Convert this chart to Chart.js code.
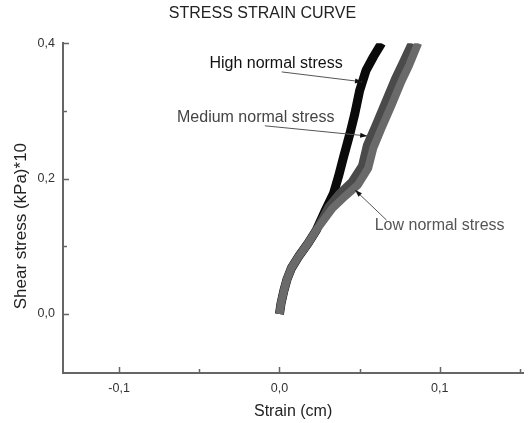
<!DOCTYPE html>
<html>
<head>
<meta charset="utf-8">
<script src="https://cdn.jsdelivr.net/npm/chart.js@4.4.1/dist/chart.umd.min.js"></script>
<style>
  html, body { margin: 0; padding: 0; background: #fff; }
  #wrap { width: 528px; height: 423px; }
</style>
</head>
<body>
<div id="wrap"><canvas id="chart" width="528" height="423"></canvas></div>
<script>
/* ── 資料 ───────────────────────────────────── */
const HIGH_X   = [0.000, 0.0010, 0.0027, 0.0048, 0.0075, 0.012, 0.018, 0.023, 0.0286, 0.0337, 0.0368, 0.040, 0.044, 0.047, 0.050, 0.054, 0.0586, 0.0637];
const HIGH_Y   = [0.000, 0.016,  0.034,  0.052,  0.068,  0.085, 0.105, 0.124, 0.153,  0.178,  0.203,  0.232, 0.267, 0.296, 0.330, 0.360, 0.380,  0.400];

const MEDIUM_X = [0.000, 0.0010, 0.0027, 0.0048, 0.0075, 0.012, 0.018, 0.023, 0.0305, 0.037, 0.045, 0.0515, 0.0545, 0.0598, 0.066, 0.072, 0.077, 0.0825];
const MEDIUM_Y = [0.000, 0.016,  0.034,  0.052,  0.068,  0.085, 0.105, 0.124, 0.158,  0.177, 0.195, 0.219,  0.249,  0.278,  0.313, 0.347, 0.372, 0.400];

const LOW_X    = [0.000, 0.0010, 0.0027, 0.0048, 0.0075, 0.012, 0.018, 0.023, 0.033, 0.041, 0.049, 0.0553, 0.0585, 0.0636, 0.070, 0.076, 0.081, 0.0865];
const LOW_Y    = [0.000, 0.016,  0.034,  0.052,  0.068,  0.085, 0.105, 0.124, 0.156, 0.174, 0.191, 0.215,  0.245,  0.274,  0.309, 0.343, 0.368, 0.400];

const X_TICKS   = [-0.1, -0.05, 0, 0.05, 0.1, 0.15];
const X_LABELED = [-0.1, 0, 0.1];
const Y_TICKS   = [0, 0.1, 0.2, 0.3, 0.4];
const Y_LABELED = [0, 0.2, 0.4];

/* 註解文字與箭頭（資料座標） */
const NOTES = [
  { text: 'High normal stress',   color: '#111', at: [-0.0437, 0.370], from: [0.0014, 0.3576],  to: [0.0515, 0.343] },
  { text: 'Medium normal stress', color: '#444', at: [-0.0639, 0.290], from: [-0.0091, 0.278],  to: [0.0547, 0.263] },
  { text: 'Low normal stress',    color: '#555', at: [0.0594, 0.131],  from: [0.0668, 0.1387],  to: [0.0472, 0.183] }
];

const FONT = '"Liberation Sans", Arial, sans-serif';
const fmt = v => v.toFixed(1).replace('.', ',');
const pts = (xs, ys) => xs.map((x, i) => ({ x, y: ys[i] }));

/* ── 插件：向內刻度、Y 軸標題、註解 ───────────── */
const innerTicks = {
  id: 'innerTicks',
  afterDraw(chart) {
    const { ctx, chartArea: a, scales: { x, y } } = chart;
    ctx.save();
    ctx.strokeStyle = '#666';
    ctx.lineWidth = 1.5;
    ctx.beginPath();
    X_TICKS.forEach(v => {
      const px = Math.round(x.getPixelForValue(v)) + 0.5;
      const len = X_LABELED.includes(v) ? 6 : 4;
      ctx.moveTo(px, a.bottom);
      ctx.lineTo(px, a.bottom - len);
    });
    Y_TICKS.forEach(v => {
      const py = Math.round(y.getPixelForValue(v)) + 0.5;
      const len = Y_LABELED.includes(v) ? 6 : 4;
      ctx.moveTo(a.left, py);
      ctx.lineTo(a.left + len, py);
    });
    ctx.stroke();

    /* Y 軸標題 */
    ctx.translate(21, (a.top + a.bottom) / 2 + 18);
    ctx.rotate(-Math.PI / 2);
    ctx.fillStyle = '#222';
    ctx.font = '17px ' + FONT;
    ctx.textAlign = 'center';
    ctx.textBaseline = 'middle';
    ctx.fillText('Shear stress (kPa)*10', 0, 0);
    ctx.restore();
  }
};

const notes = {
  id: 'notes',
  afterDatasetsDraw(chart) {
    const { ctx, scales: { x, y } } = chart;
    ctx.save();
    ctx.font = '16px ' + FONT;
    ctx.textBaseline = 'middle';
    NOTES.forEach(n => {
      ctx.fillStyle = n.color;
      ctx.fillText(n.text, x.getPixelForValue(n.at[0]), y.getPixelForValue(n.at[1]));

      const x0 = x.getPixelForValue(n.from[0]), y0 = y.getPixelForValue(n.from[1]);
      const x1 = x.getPixelForValue(n.to[0]),   y1 = y.getPixelForValue(n.to[1]);
      ctx.strokeStyle = '#555';
      ctx.lineWidth = 1;
      ctx.beginPath();
      ctx.moveTo(x0, y0);
      ctx.lineTo(x1, y1);
      ctx.stroke();

      // 箭頭
      const ang = Math.atan2(y1 - y0, x1 - x0);
      ctx.fillStyle = '#111';
      ctx.beginPath();
      ctx.moveTo(x1, y1);
      ctx.lineTo(x1 - 7 * Math.cos(ang) + 2.5 * Math.sin(ang), y1 - 7 * Math.sin(ang) - 2.5 * Math.cos(ang));
      ctx.lineTo(x1 - 7 * Math.cos(ang) - 2.5 * Math.sin(ang), y1 - 7 * Math.sin(ang) + 2.5 * Math.cos(ang));
      ctx.closePath();
      ctx.fill();
    });
    ctx.restore();
  }
};

/* ── 圖表 ───────────────────────────────────── */
const lineStyle = (color, width) => ({
  borderColor: color,
  backgroundColor: color,
  borderWidth: width,
  pointRadius: 0,
  tension: 0,
  fill: false,
  clip: 0,
  borderCapStyle: 'butt',
  borderJoinStyle: 'round'
});

new Chart(document.getElementById('chart'), {
  type: 'line',
  data: {
    datasets: [
      { label: 'Low normal stress',    data: pts(LOW_X, LOW_Y),       ...lineStyle('#6a6a6a', 8) },
      { label: 'Medium normal stress', data: pts(MEDIUM_X, MEDIUM_Y), ...lineStyle('#4a4a4a', 8) },
      { label: 'High normal stress',   data: pts(HIGH_X, HIGH_Y),     ...lineStyle('#0a0a0a', 9) }
    ]
  },
  options: {
    responsive: false,
    animation: false,
    layout: { padding: { left: 0, right: 3, top: 0, bottom: 0 } },
    plugins: {
      legend: { display: false },
      tooltip: { enabled: false },
      title: {
        display: true,
        text: 'STRESS STRAIN CURVE',
        color: '#222',
        font: { family: FONT, size: 16, weight: 'normal' },
        padding: { top: 4, bottom: 20 }
      }
    },
    scales: {
      x: {
        type: 'linear',
        position: 'bottom',
        min: -0.135,
        max: 0.152,
        afterBuildTicks: s => { s.ticks = X_TICKS.map(v => ({ value: v })); },
        afterFit: s => { s.height = 50; },
        ticks: {
          autoSkip: false,
          maxRotation: 0,
          padding: 8,
          color: '#333',
          font: { family: FONT, size: 12.5 },
          callback: v => X_LABELED.includes(v) ? fmt(v) : ''
        },
        grid: { display: false, drawTicks: false },
        border: { display: true, color: '#666', width: 2 },
        title: {
          display: true,
          text: 'Strain (cm)',
          color: '#222',
          font: { family: FONT, size: 16 },
          padding: { top: 0, bottom: 2 }
        }
      },
      y: {
        type: 'linear',
        min: -0.0871,
        max: 0.4,
        afterBuildTicks: s => { s.ticks = Y_TICKS.map(v => ({ value: v })); },
        afterFit: s => { s.width = 63; },
        ticks: {
          autoSkip: false,
          padding: 8,
          color: '#333',
          font: { family: FONT, size: 12.5 },
          callback: v => Y_LABELED.includes(v) ? fmt(v) : ''
        },
        grid: { display: false, drawTicks: false },
        border: { display: true, color: '#666', width: 2 }
      }
    }
  },
  plugins: [notes, innerTicks]
});
</script>
</body>
</html>
